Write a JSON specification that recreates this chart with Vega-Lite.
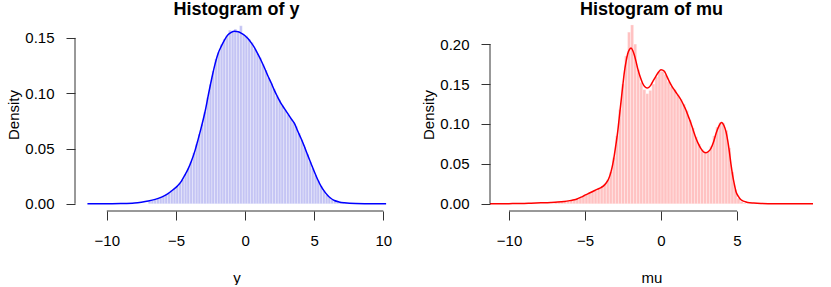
{
  "$schema": "https://vega.github.io/schema/vega-lite/v6.json",
  "padding": {"left": 6, "top": 1, "right": 0, "bottom": 0},
  "spacing": 23,
  "background": "white",
  "config": {
    "view": {"stroke": null},
    "font": "Liberation Sans",
    "title": {"fontSize": 18, "fontWeight": "bold", "font": "Liberation Sans", "color": "#000", "offset": -1, "anchor": "middle"}
  },
  "datasets": {
    "hist_y": [
      {"bin_start": -7.0, "bin_end": -6.8, "density": 0.0025},
      {"bin_start": -6.8, "bin_end": -6.6, "density": 0.003},
      {"bin_start": -6.6, "bin_end": -6.4, "density": 0.004},
      {"bin_start": -6.4, "bin_end": -6.2, "density": 0.005},
      {"bin_start": -6.2, "bin_end": -6.0, "density": 0.006},
      {"bin_start": -6.0, "bin_end": -5.8, "density": 0.007},
      {"bin_start": -5.8, "bin_end": -5.6, "density": 0.0085},
      {"bin_start": -5.6, "bin_end": -5.4, "density": 0.010},
      {"bin_start": -5.4, "bin_end": -5.2, "density": 0.012},
      {"bin_start": -5.2, "bin_end": -5.0, "density": 0.0135},
      {"bin_start": -5.0, "bin_end": -4.8, "density": 0.016},
      {"bin_start": -4.8, "bin_end": -4.6, "density": 0.019},
      {"bin_start": -4.6, "bin_end": -4.4, "density": 0.022},
      {"bin_start": -4.4, "bin_end": -4.2, "density": 0.027},
      {"bin_start": -4.2, "bin_end": -4.0, "density": 0.032},
      {"bin_start": -4.0, "bin_end": -3.8, "density": 0.038},
      {"bin_start": -3.8, "bin_end": -3.6, "density": 0.046},
      {"bin_start": -3.6, "bin_end": -3.4, "density": 0.054},
      {"bin_start": -3.4, "bin_end": -3.2, "density": 0.063},
      {"bin_start": -3.2, "bin_end": -3.0, "density": 0.072},
      {"bin_start": -3.0, "bin_end": -2.8, "density": 0.083},
      {"bin_start": -2.8, "bin_end": -2.6, "density": 0.096},
      {"bin_start": -2.6, "bin_end": -2.4, "density": 0.108},
      {"bin_start": -2.4, "bin_end": -2.2, "density": 0.120},
      {"bin_start": -2.2, "bin_end": -2.0, "density": 0.131},
      {"bin_start": -2.0, "bin_end": -1.8, "density": 0.137},
      {"bin_start": -1.8, "bin_end": -1.6, "density": 0.144},
      {"bin_start": -1.6, "bin_end": -1.4, "density": 0.149},
      {"bin_start": -1.4, "bin_end": -1.2, "density": 0.152},
      {"bin_start": -1.2, "bin_end": -1.0, "density": 0.157},
      {"bin_start": -1.0, "bin_end": -0.8, "density": 0.156},
      {"bin_start": -0.8, "bin_end": -0.6, "density": 0.158},
      {"bin_start": -0.6, "bin_end": -0.4, "density": 0.155},
      {"bin_start": -0.4, "bin_end": -0.2, "density": 0.161},
      {"bin_start": -0.2, "bin_end": 0.0, "density": 0.153},
      {"bin_start": 0.0, "bin_end": 0.2, "density": 0.152},
      {"bin_start": 0.2, "bin_end": 0.4, "density": 0.149},
      {"bin_start": 0.4, "bin_end": 0.6, "density": 0.146},
      {"bin_start": 0.6, "bin_end": 0.8, "density": 0.140},
      {"bin_start": 0.8, "bin_end": 1.0, "density": 0.136},
      {"bin_start": 1.0, "bin_end": 1.2, "density": 0.132},
      {"bin_start": 1.2, "bin_end": 1.4, "density": 0.126},
      {"bin_start": 1.4, "bin_end": 1.6, "density": 0.121},
      {"bin_start": 1.6, "bin_end": 1.8, "density": 0.114},
      {"bin_start": 1.8, "bin_end": 2.0, "density": 0.109},
      {"bin_start": 2.0, "bin_end": 2.2, "density": 0.104},
      {"bin_start": 2.2, "bin_end": 2.4, "density": 0.098},
      {"bin_start": 2.4, "bin_end": 2.6, "density": 0.094},
      {"bin_start": 2.6, "bin_end": 2.8, "density": 0.089},
      {"bin_start": 2.8, "bin_end": 3.0, "density": 0.085},
      {"bin_start": 3.0, "bin_end": 3.2, "density": 0.081},
      {"bin_start": 3.2, "bin_end": 3.4, "density": 0.078},
      {"bin_start": 3.4, "bin_end": 3.6, "density": 0.074},
      {"bin_start": 3.6, "bin_end": 3.8, "density": 0.070},
      {"bin_start": 3.8, "bin_end": 4.0, "density": 0.064},
      {"bin_start": 4.0, "bin_end": 4.2, "density": 0.058},
      {"bin_start": 4.2, "bin_end": 4.4, "density": 0.051},
      {"bin_start": 4.4, "bin_end": 4.6, "density": 0.045},
      {"bin_start": 4.6, "bin_end": 4.8, "density": 0.038},
      {"bin_start": 4.8, "bin_end": 5.0, "density": 0.032},
      {"bin_start": 5.0, "bin_end": 5.2, "density": 0.026},
      {"bin_start": 5.2, "bin_end": 5.4, "density": 0.021},
      {"bin_start": 5.4, "bin_end": 5.6, "density": 0.016},
      {"bin_start": 5.6, "bin_end": 5.8, "density": 0.012},
      {"bin_start": 5.8, "bin_end": 6.0, "density": 0.008},
      {"bin_start": 6.0, "bin_end": 6.2, "density": 0.006},
      {"bin_start": 6.2, "bin_end": 6.4, "density": 0.004},
      {"bin_start": 6.4, "bin_end": 6.6, "density": 0.003},
      {"bin_start": 6.6, "bin_end": 6.8, "density": 0.002},
      {"bin_start": 6.8, "bin_end": 7.0, "density": 0.0015},
      {"bin_start": 7.0, "bin_end": 7.2, "density": 0.001},
      {"bin_start": 7.2, "bin_end": 7.4, "density": 0.0008}
    ],
    "dens_y": [
      {"x": -11.4, "d": 0}, {"x": -10, "d": 0.0001}, {"x": -9, "d": 0.0003}, {"x": -8, "d": 0.0008},
      {"x": -7.5, "d": 0.0015}, {"x": -7, "d": 0.0025}, {"x": -6.5, "d": 0.004}, {"x": -6, "d": 0.0063},
      {"x": -5.6, "d": 0.009}, {"x": -5.2, "d": 0.0128}, {"x": -4.9, "d": 0.016}, {"x": -4.6, "d": 0.0205},
      {"x": -4.4, "d": 0.025}, {"x": -4.1, "d": 0.032}, {"x": -3.9, "d": 0.038}, {"x": -3.6, "d": 0.049},
      {"x": -3.4, "d": 0.058}, {"x": -3.15, "d": 0.07}, {"x": -2.9, "d": 0.083}, {"x": -2.6, "d": 0.102},
      {"x": -2.4, "d": 0.114}, {"x": -2.2, "d": 0.125}, {"x": -1.95, "d": 0.136}, {"x": -1.7, "d": 0.143},
      {"x": -1.45, "d": 0.149}, {"x": -1.25, "d": 0.1526}, {"x": -1.0, "d": 0.155}, {"x": -0.77, "d": 0.156},
      {"x": -0.5, "d": 0.1555}, {"x": -0.29, "d": 0.1544}, {"x": 0.0, "d": 0.152}, {"x": 0.19, "d": 0.1496},
      {"x": 0.45, "d": 0.1455}, {"x": 0.67, "d": 0.1415}, {"x": 0.9, "d": 0.136}, {"x": 1.16, "d": 0.1296},
      {"x": 1.4, "d": 0.123}, {"x": 1.64, "d": 0.116}, {"x": 1.9, "d": 0.109}, {"x": 2.12, "d": 0.1026},
      {"x": 2.36, "d": 0.0965}, {"x": 2.6, "d": 0.0907}, {"x": 2.85, "d": 0.086}, {"x": 3.08, "d": 0.0817},
      {"x": 3.3, "d": 0.0775}, {"x": 3.57, "d": 0.0727}, {"x": 3.8, "d": 0.066}, {"x": 4.05, "d": 0.059},
      {"x": 4.3, "d": 0.0515}, {"x": 4.53, "d": 0.044}, {"x": 4.77, "d": 0.0365}, {"x": 5.01, "d": 0.029},
      {"x": 5.25, "d": 0.022}, {"x": 5.49, "d": 0.016}, {"x": 5.75, "d": 0.011}, {"x": 5.98, "d": 0.0075},
      {"x": 6.2, "d": 0.005}, {"x": 6.46, "d": 0.003}, {"x": 6.8, "d": 0.0017}, {"x": 7.18, "d": 0.0009},
      {"x": 8, "d": 0.0002}, {"x": 9, "d": 0.00005}, {"x": 10.2, "d": 0}
    ],
    "hist_mu": [
      {"bin_start": -7.0, "bin_end": -6.8, "density": 0.002},
      {"bin_start": -6.8, "bin_end": -6.6, "density": 0.0025},
      {"bin_start": -6.6, "bin_end": -6.4, "density": 0.003},
      {"bin_start": -6.4, "bin_end": -6.2, "density": 0.0035},
      {"bin_start": -6.2, "bin_end": -6.0, "density": 0.004},
      {"bin_start": -6.0, "bin_end": -5.8, "density": 0.0045},
      {"bin_start": -5.8, "bin_end": -5.6, "density": 0.005},
      {"bin_start": -5.6, "bin_end": -5.4, "density": 0.006},
      {"bin_start": -5.4, "bin_end": -5.2, "density": 0.008},
      {"bin_start": -5.2, "bin_end": -5.0, "density": 0.010},
      {"bin_start": -5.0, "bin_end": -4.8, "density": 0.012},
      {"bin_start": -4.8, "bin_end": -4.6, "density": 0.014},
      {"bin_start": -4.6, "bin_end": -4.4, "density": 0.016},
      {"bin_start": -4.4, "bin_end": -4.2, "density": 0.017},
      {"bin_start": -4.2, "bin_end": -4.0, "density": 0.019},
      {"bin_start": -4.0, "bin_end": -3.8, "density": 0.021},
      {"bin_start": -3.8, "bin_end": -3.6, "density": 0.024},
      {"bin_start": -3.6, "bin_end": -3.4, "density": 0.030},
      {"bin_start": -3.4, "bin_end": -3.2, "density": 0.040},
      {"bin_start": -3.2, "bin_end": -3.0, "density": 0.058},
      {"bin_start": -3.0, "bin_end": -2.8, "density": 0.085},
      {"bin_start": -2.8, "bin_end": -2.6, "density": 0.118},
      {"bin_start": -2.6, "bin_end": -2.4, "density": 0.150},
      {"bin_start": -2.4, "bin_end": -2.2, "density": 0.185},
      {"bin_start": -2.2, "bin_end": -2.0, "density": 0.215},
      {"bin_start": -2.0, "bin_end": -1.8, "density": 0.224},
      {"bin_start": -1.8, "bin_end": -1.6, "density": 0.200},
      {"bin_start": -1.6, "bin_end": -1.4, "density": 0.168},
      {"bin_start": -1.4, "bin_end": -1.2, "density": 0.152},
      {"bin_start": -1.2, "bin_end": -1.0, "density": 0.143},
      {"bin_start": -1.0, "bin_end": -0.8, "density": 0.138},
      {"bin_start": -0.8, "bin_end": -0.6, "density": 0.142},
      {"bin_start": -0.6, "bin_end": -0.4, "density": 0.150},
      {"bin_start": -0.4, "bin_end": -0.2, "density": 0.159},
      {"bin_start": -0.2, "bin_end": 0.0, "density": 0.166},
      {"bin_start": 0.0, "bin_end": 0.2, "density": 0.166},
      {"bin_start": 0.2, "bin_end": 0.4, "density": 0.162},
      {"bin_start": 0.4, "bin_end": 0.6, "density": 0.153},
      {"bin_start": 0.6, "bin_end": 0.8, "density": 0.147},
      {"bin_start": 0.8, "bin_end": 1.0, "density": 0.143},
      {"bin_start": 1.0, "bin_end": 1.2, "density": 0.137},
      {"bin_start": 1.2, "bin_end": 1.4, "density": 0.131},
      {"bin_start": 1.4, "bin_end": 1.6, "density": 0.125},
      {"bin_start": 1.6, "bin_end": 1.8, "density": 0.117},
      {"bin_start": 1.8, "bin_end": 2.0, "density": 0.105},
      {"bin_start": 2.0, "bin_end": 2.2, "density": 0.095},
      {"bin_start": 2.2, "bin_end": 2.4, "density": 0.084},
      {"bin_start": 2.4, "bin_end": 2.6, "density": 0.075},
      {"bin_start": 2.6, "bin_end": 2.8, "density": 0.068},
      {"bin_start": 2.8, "bin_end": 3.0, "density": 0.064},
      {"bin_start": 3.0, "bin_end": 3.2, "density": 0.065},
      {"bin_start": 3.2, "bin_end": 3.4, "density": 0.072},
      {"bin_start": 3.4, "bin_end": 3.6, "density": 0.085},
      {"bin_start": 3.6, "bin_end": 3.8, "density": 0.096},
      {"bin_start": 3.8, "bin_end": 4.0, "density": 0.102},
      {"bin_start": 4.0, "bin_end": 4.2, "density": 0.101},
      {"bin_start": 4.2, "bin_end": 4.4, "density": 0.092},
      {"bin_start": 4.4, "bin_end": 4.6, "density": 0.070},
      {"bin_start": 4.6, "bin_end": 4.8, "density": 0.040},
      {"bin_start": 4.8, "bin_end": 5.0, "density": 0.018},
      {"bin_start": 5.0, "bin_end": 5.2, "density": 0.007},
      {"bin_start": 5.2, "bin_end": 5.4, "density": 0.003},
      {"bin_start": 5.4, "bin_end": 5.6, "density": 0.001}
    ],
    "dens_mu": [
      {"x": -11.25, "d": 0}, {"x": -10, "d": 0.0002}, {"x": -9, "d": 0.0005}, {"x": -8.55, "d": 0.0008},
      {"x": -7.9, "d": 0.0012}, {"x": -7.24, "d": 0.0017}, {"x": -6.8, "d": 0.0022}, {"x": -6.36, "d": 0.003},
      {"x": -6.0, "d": 0.004}, {"x": -5.7, "d": 0.005}, {"x": -5.48, "d": 0.0065}, {"x": -5.26, "d": 0.0083},
      {"x": -5.04, "d": 0.0104}, {"x": -4.82, "d": 0.0125}, {"x": -4.6, "d": 0.0145}, {"x": -4.39, "d": 0.0163},
      {"x": -4.17, "d": 0.0183}, {"x": -3.95, "d": 0.0204}, {"x": -3.78, "d": 0.0225}, {"x": -3.62, "d": 0.0258},
      {"x": -3.45, "d": 0.031}, {"x": -3.29, "d": 0.040}, {"x": -3.18, "d": 0.049}, {"x": -3.07, "d": 0.061},
      {"x": -2.96, "d": 0.075}, {"x": -2.85, "d": 0.090}, {"x": -2.74, "d": 0.109}, {"x": -2.63, "d": 0.128},
      {"x": -2.52, "d": 0.147}, {"x": -2.41, "d": 0.165}, {"x": -2.3, "d": 0.178}, {"x": -2.19, "d": 0.188},
      {"x": -2.08, "d": 0.193}, {"x": -1.97, "d": 0.195}, {"x": -1.86, "d": 0.192}, {"x": -1.75, "d": 0.186},
      {"x": -1.64, "d": 0.178}, {"x": -1.54, "d": 0.170}, {"x": -1.37, "d": 0.159}, {"x": -1.21, "d": 0.151},
      {"x": -1.06, "d": 0.1465}, {"x": -0.92, "d": 0.145}, {"x": -0.79, "d": 0.146}, {"x": -0.66, "d": 0.149},
      {"x": -0.5, "d": 0.1545}, {"x": -0.33, "d": 0.160}, {"x": -0.16, "d": 0.165}, {"x": 0.0, "d": 0.168},
      {"x": 0.11, "d": 0.1675}, {"x": 0.22, "d": 0.166}, {"x": 0.38, "d": 0.160}, {"x": 0.55, "d": 0.153},
      {"x": 0.71, "d": 0.1475}, {"x": 0.88, "d": 0.1425}, {"x": 1.1, "d": 0.1365}, {"x": 1.32, "d": 0.130},
      {"x": 1.48, "d": 0.124}, {"x": 1.64, "d": 0.1175}, {"x": 1.8, "d": 0.1095}, {"x": 1.97, "d": 0.101},
      {"x": 2.14, "d": 0.091}, {"x": 2.3, "d": 0.082}, {"x": 2.46, "d": 0.075}, {"x": 2.63, "d": 0.069},
      {"x": 2.8, "d": 0.065}, {"x": 2.96, "d": 0.064}, {"x": 3.12, "d": 0.0655}, {"x": 3.29, "d": 0.0696},
      {"x": 3.45, "d": 0.077}, {"x": 3.62, "d": 0.088}, {"x": 3.8, "d": 0.097}, {"x": 3.99, "d": 0.1017},
      {"x": 4.14, "d": 0.098}, {"x": 4.28, "d": 0.090}, {"x": 4.39, "d": 0.079}, {"x": 4.5, "d": 0.065},
      {"x": 4.6, "d": 0.050}, {"x": 4.71, "d": 0.036}, {"x": 4.82, "d": 0.025}, {"x": 4.93, "d": 0.0154},
      {"x": 5.1, "d": 0.009}, {"x": 5.26, "d": 0.005}, {"x": 5.48, "d": 0.003}, {"x": 5.7, "d": 0.0017},
      {"x": 6.1, "d": 0.0009}, {"x": 6.58, "d": 0.0004}, {"x": 7.5, "d": 0.0001}, {"x": 10.0, "d": 0}
    ]
  },
  "hconcat": [
    {
      "title": "Histogram of y",
      "width": 323,
      "height": 193,
      "layer": [
        {
          "data": {"name": "hist_y"},
          "mark": {"type": "bar", "fill": "#C4C4F4", "stroke": "white", "strokeWidth": 0.5, "strokeOpacity": 0.6},
          "encoding": {
            "x": {"field": "bin_start", "type": "quantitative", "scale": {"domain": [-12.3, 11.06], "nice": false, "zero": false},
                  "axis": {"values": [-10, -5, 0, 5, 10], "title": "y", "grid": false, "domain": false, "tickSize": 9, "tickColor": "#333", "labelFontSize": 15, "labelFont": "Liberation Sans", "labelColor": "#000", "labelPadding": 13, "labelFlush": false, "titleFont": "Liberation Sans", "titleFontSize": 15, "titleFontWeight": "normal", "titleColor": "#000", "titlePadding": 22}},
            "x2": {"field": "bin_end"},
            "y": {"field": "density", "type": "quantitative", "scale": {"domain": [-0.0065, 0.168], "nice": false, "zero": false},
                  "axis": {"values": [0, 0.05, 0.1, 0.15], "format": ".2f", "title": "Density", "grid": false, "domain": false, "tickSize": 9, "tickColor": "#333", "labelFontSize": 15, "labelFont": "Liberation Sans", "labelColor": "#000", "labelPadding": 12, "labelFlush": false, "titleFont": "Liberation Sans", "titleFontSize": 15, "titleFontWeight": "normal", "titleColor": "#000", "titlePadding": 3}},
            "y2": {"datum": 0}
          }
        },
        {
          "data": {"name": "dens_y"},
          "mark": {"type": "line", "color": "#0000FF", "strokeWidth": 1.5, "interpolate": "monotone"},
          "encoding": {
            "x": {"field": "x", "type": "quantitative"},
            "y": {"field": "d", "type": "quantitative"}
          }
        },
        {
          "data": {"values": [{}]},
          "mark": {"type": "rule", "color": "#333", "strokeWidth": 1},
          "encoding": {
            "x": {"datum": -12.3, "type": "quantitative"},
            "y": {"datum": 0, "type": "quantitative"},
            "y2": {"datum": 0.15}
          }
        },
        {
          "data": {"values": [{}]},
          "mark": {"type": "rule", "color": "#333", "strokeWidth": 1},
          "encoding": {
            "x": {"datum": -10, "type": "quantitative"},
            "x2": {"datum": 10},
            "y": {"datum": -0.0065, "type": "quantitative"}
          }
        }
      ]
    },
    {
      "title": "Histogram of mu",
      "width": 323,
      "height": 193,
      "layer": [
        {
          "data": {"name": "hist_mu"},
          "mark": {"type": "bar", "fill": "#FFC2C2", "stroke": "white", "strokeWidth": 0.5, "strokeOpacity": 0.6},
          "encoding": {
            "x": {"field": "bin_start", "type": "quantitative", "scale": {"domain": [-11.25, 10.0], "nice": false, "zero": false},
                  "axis": {"values": [-10, -5, 0, 5], "title": "mu", "grid": false, "domain": false, "tickSize": 9, "tickColor": "#333", "labelFontSize": 15, "labelFont": "Liberation Sans", "labelColor": "#000", "labelPadding": 13, "labelFlush": false, "titleFont": "Liberation Sans", "titleFontSize": 15, "titleFontWeight": "normal", "titleColor": "#000", "titlePadding": 22}},
            "x2": {"field": "bin_end"},
            "y": {"field": "density", "type": "quantitative", "scale": {"domain": [-0.009, 0.2327], "nice": false, "zero": false},
                  "axis": {"values": [0, 0.05, 0.1, 0.15, 0.2], "format": ".2f", "title": "Density", "grid": false, "domain": false, "tickSize": 9, "tickColor": "#333", "labelFontSize": 15, "labelFont": "Liberation Sans", "labelColor": "#000", "labelPadding": 12, "labelFlush": false, "titleFont": "Liberation Sans", "titleFontSize": 15, "titleFontWeight": "normal", "titleColor": "#000", "titlePadding": 3}},
            "y2": {"datum": 0}
          }
        },
        {
          "data": {"name": "dens_mu"},
          "mark": {"type": "line", "color": "#FF0000", "strokeWidth": 1.5, "interpolate": "monotone"},
          "encoding": {
            "x": {"field": "x", "type": "quantitative"},
            "y": {"field": "d", "type": "quantitative"}
          }
        },
        {
          "data": {"values": [{}]},
          "mark": {"type": "rule", "color": "#333", "strokeWidth": 1},
          "encoding": {
            "x": {"datum": -11.25, "type": "quantitative"},
            "y": {"datum": 0, "type": "quantitative"},
            "y2": {"datum": 0.2}
          }
        },
        {
          "data": {"values": [{}]},
          "mark": {"type": "rule", "color": "#333", "strokeWidth": 1},
          "encoding": {
            "x": {"datum": -10, "type": "quantitative"},
            "x2": {"datum": 5},
            "y": {"datum": -0.009, "type": "quantitative"}
          }
        }
      ]
    }
  ]
}
